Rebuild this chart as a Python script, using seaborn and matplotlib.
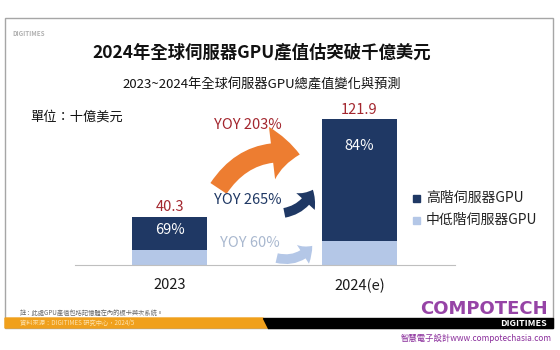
import matplotlib
matplotlib.use("Agg")
import matplotlib.pyplot as plt
import seaborn as sns
import pandas as pd
from matplotlib.patches import Rectangle, Polygon, FancyArrowPatch

# ---- data ----
years = ["2023", "2024(e)"]
totals = [40.3, 121.9]
high_share = [69, 84]  # % high-end
high_vals = [27.8, 102.4]
low_vals = [12.5, 19.5]
yoy_labels = ["YOY 203%", "YOY 265%", "YOY 60%"]
legend_labels = ["高階伺服器GPU", "中低階伺服器GPU"]

sns.set_theme(style="white")
plt.rcParams['font.family'] = ['Noto Sans CJK TC', 'DejaVu Sans']

DARK = "#1f3864"
LIGHT = "#b4c7e7"
RED = "#a3262e"
ORANGE = "#ed7d31"
GRAYTXT = "#a9b8cf"

W, H = 560, 350
fig = plt.figure(figsize=(W / 100, H / 100), dpi=100)
fig.patch.set_facecolor("white")

def fx(px):
    return px / W

def fy(py):
    return 1 - py / H

def ftext(px, py, s, **kw):
    return fig.text(fx(px), fy(py), s, **kw)

# frame
fig.patches.append(Rectangle((fx(5), fy(328)), fx(553) - fx(5), fy(18) - fy(328),
                             transform=fig.transFigure, fill=False, edgecolor="#a6a6a6", lw=1.0, zorder=0))

ax = fig.add_axes([74.5 / W, (H - 264.5) / H, 380 / W, 166.6 / H])
df = pd.DataFrame({"year": years, "total": totals, "low": low_vals})
sns.barplot(data=df, x="year", y="total", color=DARK, width=0.395, ax=ax,
            saturation=1, edgecolor="none")
sns.barplot(data=df, x="year", y="low", color=LIGHT, width=0.395, ax=ax,
            saturation=1, edgecolor="none")
ax.set_xlim(-0.5, 1.5)
ax.set_ylim(0, 140)
ax.set_xlabel("")
ax.set_ylabel("")
ax.set_yticks([])
ax.tick_params(axis="x", length=0, pad=10, labelsize=10.5, labelcolor="#1a1a1a")
for lab in ax.get_xticklabels():
    lab.set_fontweight("medium")
for s in ["top", "right", "left"]:
    ax.spines[s].set_visible(False)
ax.spines["bottom"].set_color("#bfbfbf")
ax.spines["bottom"].set_linewidth(0.8)
ax.patch.set_alpha(0)

for i, (t, hs, lv) in enumerate(zip(totals, high_share, low_vals)):
    ax.text(i, t + 8, f"{t}", ha="center", va="center", color=RED, fontsize=10.5)
    ax.text(i, lv + (t - lv) * (0.6 if i == 0 else 0.78), f"{hs}%", ha="center",
            va="center", color="white", fontsize=10.5)

# arrows (data coords)
def arrow(p0, p1, rad, color, hw, hl, tw):
    a = FancyArrowPatch(p0, p1, connectionstyle=f"arc3,rad={rad}",
                        arrowstyle=f"simple,head_width={hw},head_length={hl},tail_width={tw}",
                        color=color, lw=0, mutation_scale=1, zorder=3)
    ax.add_patch(a)

arrow((0.25, 62), (0.70, 92), -0.35, ORANGE, 38, 20, 14)
arrow((0.59, 43), (0.76, 65), 0.3, DARK, 18, 10, 7)
arrow((0.55, 6), (0.76, 17.5), 0.35, LIGHT, 16, 9, 7)

ax.text(0.41, 117, yoy_labels[0], ha="center", va="center", color=RED, fontsize=10.5)
ax.text(0.41, 54, yoy_labels[1], ha="center", va="center", color=DARK, fontsize=10.5)
ax.text(0.425, 18, yoy_labels[2], ha="center", va="center", color=GRAYTXT, fontsize=10.5)

# legend
for j, (lab, col) in enumerate(zip(legend_labels, [DARK, LIGHT])):
    yy = 198 + j * 22
    fig.patches.append(Rectangle((fx(413), fy(yy + 3.5)), 7 / W, 7 / H, transform=fig.transFigure,
                                 color=col, zorder=2))
    ftext(426, yy, lab, ha="left", va="center", fontsize=10, color="#222222")

# titles
ftext(12, 34, "DIGITIMES", fontsize=4.5, color="#b0b0b0", ha="left", va="center", fontweight="bold")
ftext(262, 52, "2024年全球伺服器GPU產值估突破千億美元", fontsize=12.5, fontweight="bold",
      ha="center", va="center", color="#111111")
ftext(262, 85, "2023~2024年全球伺服器GPU總產值變化與預測", fontsize=9.5,
      ha="center", va="center", color="#111111")
ftext(30, 117, "單位：十億美元", fontsize=9.5, ha="left", va="center", color="#111111")

# footer
ftext(20, 313, "註：此處GPU產值包括記憶體在內的板卡與次系統。", fontsize=4.5, color="#666666",
      ha="left", va="center")
fig.patches.append(Polygon([(fx(5), fy(318)), (fx(263), fy(318)), (fx(268), fy(328)), (fx(5), fy(328))],
                           closed=True, transform=fig.transFigure, color="#f0a01c", zorder=1))
fig.patches.append(Polygon([(fx(263), fy(318)), (fx(553), fy(318)), (fx(553), fy(328)), (fx(268), fy(328))],
                           closed=True, transform=fig.transFigure, color="#000000", zorder=1))
ftext(20, 323, "資料來源：DIGITIMES 研究中心，2024/5", fontsize=4.5, color="#fde3b0",
      ha="left", va="center")
ftext(500, 323, "DIGITIMES", fontsize=6.5, color="white", ha="left", va="center", fontweight="bold")

# watermark
ftext(420, 309, "COMPOTECH", fontsize=13, color="#8b2f9c", ha="left", va="center",
      fontweight="bold", family=["DejaVu Sans"], alpha=0.9)
ftext(476, 338, "智慧電子設計www.compotechasia.com", fontsize=6, color="#8b2f9c",
      ha="center", va="center")

fig.savefig("out.png", dpi=100, facecolor="white")
